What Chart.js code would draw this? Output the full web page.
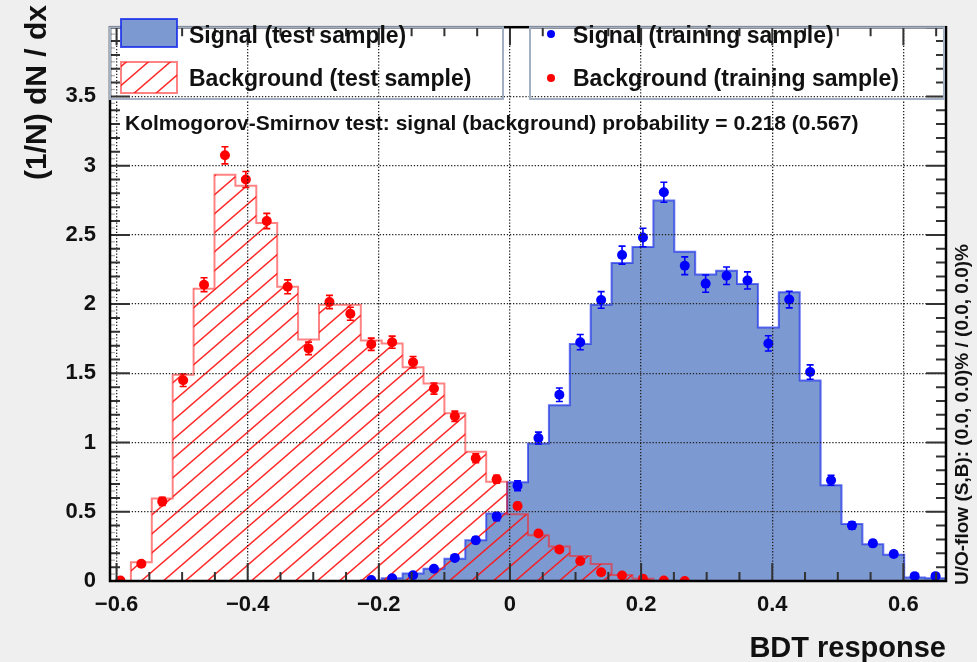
<!DOCTYPE html>
<html>
<head>
<meta charset="utf-8">
<title>BDT response</title>
<script src="https://cdn.jsdelivr.net/npm/chart.js@4.4.1/dist/chart.umd.min.js"></script>
<style>
  html, body { margin: 0; padding: 0; background: #efefef; }
  #wrap { width: 977px; height: 662px; }
</style>
</head>
<body>
<div id="wrap"><canvas id="c" width="977" height="662"></canvas></div>
<script>
// binning of the BDT output histograms
const binLow = -0.61;
const binHigh = 0.665;
const nBins = 40;

// normalised test-sample histograms (one value per bin)
const sigTest = [0, 0, 0, 0, 0, 0, 0, 0, 0, 0, 0, 0, 0.005, 0.02, 0.054, 0.089, 0.16, 0.294, 0.488, 0.714,
  0.993, 1.27, 1.712, 1.995, 2.296, 2.412, 2.749, 2.378, 2.213, 2.24, 2.145, 1.831, 2.085, 1.448, 0.692, 0.411, 0.265, 0.19, 0.026, 0.019];
const bkgTest = [0, 0.135, 0.595, 1.49, 2.11, 2.935, 2.855, 2.585, 2.125, 1.745, 1.995, 1.995, 1.737, 1.716, 1.544, 1.427, 1.211, 0.934, 0.716, 0.482,
  0.33, 0.25, 0.18, 0.122, 0.043, 0.016, 0, 0, 0, 0, 0, 0, 0, 0, 0, 0, 0, 0, 0, 0];

// training-sample points and their errors
const sigTrain = [null, null, null, null, null, null, null, null, null, null, null, null, 0.007, 0.019, 0.042, 0.089, 0.167, 0.294, 0.465, 0.688,
  1.032, 1.345, 1.725, 2.03, 2.354, 2.481, 2.808, 2.277, 2.148, 2.205, 2.171, 1.716, 2.033, 1.509, 0.728, 0.401, 0.272, 0.195, 0.035, 0.035];
const sigTrainErr = [null, null, null, null, null, null, null, null, null, null, null, null, 0.003, 0.005, 0.008, 0.013, 0.017, 0.023, 0.029, 0.035,
  0.043, 0.049, 0.055, 0.06, 0.065, 0.067, 0.072, 0.064, 0.062, 0.063, 0.062, 0.055, 0.06, 0.052, 0.036, 0.027, 0.022, 0.019, 0.008, 0.008];
const bkgTrain = [0.003, 0.125, 0.575, 1.45, 2.14, 3.075, 2.9, 2.6, 2.125, 1.68, 2.015, 1.93, 1.71, 1.725, 1.58, 1.39, 1.19, 0.887, 0.735, 0.542,
  0.343, 0.228, 0.145, 0.063, 0.04, 0.016, 0.004, 0, null, null, null, null, null, null, null, null, null, null, null, null];
const bkgTrainErr = [0.003, 0.015, 0.03, 0.045, 0.05, 0.062, 0.058, 0.055, 0.05, 0.045, 0.048, 0.047, 0.044, 0.044, 0.042, 0.04, 0.037, 0.032, 0.029, 0.025,
  0.02, 0.016, 0.013, 0.009, 0.007, 0.005, 0.002, 0, null, null, null, null, null, null, null, null, null, null, null, null];

const xTicks = [-0.6, -0.4, -0.2, 0, 0.2, 0.4, 0.6];
const yTicks = [0, 0.5, 1, 1.5, 2, 2.5, 3, 3.5];

const ksText = 'Kolmogorov-Smirnov test: signal (background) probability = 0.218 (0.567)';
const flowText = 'U/O-flow (S,B): (0.0, 0.0)% / (0.0, 0.0)%';

const FONT = '"Liberation Sans", Arial, Helvetica, sans-serif';
const SIG_FILL = '#7d99d1';
const SIG_LINE = 'rgba(20,40,235,0.65)';
const BKG_LINE = 'rgba(255,30,30,0.55)';

const binW = (binHigh - binLow) / nBins;
function histPoints(vals) {
  const pts = vals.map((v, i) => ({ x: binLow + i * binW, y: v }));
  pts.push({ x: binHigh, y: vals[vals.length - 1] });
  return pts;
}
function dotPoints(vals) {
  return vals.map((v, i) => ({ x: binLow + (i + 0.5) * binW, y: v }));
}

// "/" hatch used for the background histogram
function hatch() {
  const c = document.createElement('canvas');
  c.width = 22; c.height = 19;
  const g = c.getContext('2d');
  g.strokeStyle = 'rgba(255,20,20,0.9)';
  g.lineWidth = 1.5;
  g.beginPath();
  g.moveTo(-22, 19 * 2); g.lineTo(44, -19);
  g.moveTo(-44, 19 * 2); g.lineTo(22, -19);
  g.moveTo(0, 19 * 2); g.lineTo(66, -19);
  g.stroke();
  return g.createPattern(c, 'repeat');
}
const hatchFill = hatch();

const bgPlugin = {
  id: 'bg',
  beforeDraw(chart) {
    const { ctx, chartArea: a } = chart;
    ctx.save();
    ctx.fillStyle = '#efefef';
    ctx.fillRect(0, 0, chart.width, chart.height);
    ctx.fillStyle = '#ffffff';
    ctx.fillRect(a.left, a.top, a.right - a.left, a.bottom - a.top);
    ctx.restore();
  }
};

const errPlugin = {
  id: 'errbars',
  afterDatasetsDraw(chart) {
    const { ctx, scales: { x, y } } = chart;
    chart.data.datasets.forEach((ds) => {
      if (!ds.errors) return;
      ctx.save();
      ctx.strokeStyle = ds.pointBackgroundColor;
      ctx.lineWidth = 1.6;
      ds.data.forEach((p, i) => {
        const e = ds.errors[i];
        if (p.y == null || !e) return;
        const px = x.getPixelForValue(p.x);
        const y1 = y.getPixelForValue(p.y + e);
        const y0 = y.getPixelForValue(p.y - e);
        ctx.beginPath();
        ctx.moveTo(px, y0); ctx.lineTo(px, y1);
        ctx.moveTo(px - 3.5, y1); ctx.lineTo(px + 3.5, y1);
        ctx.moveTo(px - 3.5, y0); ctx.lineTo(px + 3.5, y0);
        ctx.stroke();
      });
      ctx.restore();
    });
  }
};

const framePlugin = {
  id: 'frame',
  afterDraw(chart) {
    const { ctx, chartArea: a, scales: { x, y } } = chart;
    ctx.save();

    // inward ticks on all four sides
    ctx.strokeStyle = '#333';
    ctx.lineWidth = 2;
    for (let k = -12; k <= 13; k++) {
      const px = x.getPixelForValue(k * 0.05);
      if (px < a.left || px > a.right) continue;
      const len = k % 4 === 0 ? 18 : 9;
      ctx.beginPath();
      ctx.moveTo(px, a.bottom); ctx.lineTo(px, a.bottom - len);
      ctx.moveTo(px, a.top); ctx.lineTo(px, a.top + len);
      ctx.stroke();
    }
    for (let k = 0; k <= 80; k++) {
      const py = y.getPixelForValue(k * 0.05);
      if (py < a.top) continue;
      let len = 5;
      if (k % 10 === 0) len = 20;
      else if (k % 2 === 0) len = 10;
      ctx.strokeStyle = len === 5 ? '#aaa' : '#333';
      ctx.lineWidth = len === 5 ? 1.2 : 2;
      ctx.beginPath();
      ctx.moveTo(a.left, py); ctx.lineTo(a.left + len, py);
      if (len > 5) { ctx.moveTo(a.right, py); ctx.lineTo(a.right - len, py); }
      ctx.stroke();
    }

    // frame
    ctx.strokeStyle = '#000';
    ctx.lineWidth = 2.5;
    ctx.strokeRect(a.left, a.top, a.right - a.left, a.bottom - a.top);

    // legend panels
    ctx.strokeStyle = '#a3afc2';
    ctx.lineWidth = 2;
    ctx.strokeRect(a.left, a.top, 503 - a.left, 99 - a.top);
    ctx.strokeRect(530, a.top, 944 - 530, 99 - a.top);

    ctx.fillStyle = SIG_FILL;
    ctx.fillRect(121, 19, 56, 28);
    ctx.strokeStyle = 'rgba(20,40,235,0.8)';
    ctx.lineWidth = 2;
    ctx.strokeRect(121, 19, 56, 28);
    ctx.fillStyle = hatchFill;
    ctx.fillRect(121, 62, 56, 31);
    ctx.strokeStyle = BKG_LINE;
    ctx.strokeRect(121, 62, 56, 31);

    ctx.fillStyle = '#0000ff';
    ctx.beginPath(); ctx.arc(551, 34, 4, 0, Math.PI * 2); ctx.fill();
    ctx.fillStyle = '#ff0000';
    ctx.beginPath(); ctx.arc(551, 78, 4, 0, Math.PI * 2); ctx.fill();

    ctx.fillStyle = '#111';
    ctx.textBaseline = 'alphabetic';
    ctx.textAlign = 'left';
    ctx.font = `bold 23px ${FONT}`;
    ctx.fillText('Signal (test sample)', 189, 43);
    ctx.fillText('Background (test sample)', 189, 86);
    ctx.fillText('Signal (training sample)', 573, 43);
    ctx.fillText('Background (training sample)', 573, 86);

    ctx.font = `bold 21px ${FONT}`;
    ctx.fillText(ksText, 125, 130);

    // axis titles
    ctx.font = `bold 29px ${FONT}`;
    ctx.textAlign = 'right';
    ctx.fillText('BDT response', a.right, 657);

    ctx.save();
    ctx.translate(38, 5);
    ctx.rotate(-Math.PI / 2);
    ctx.font = `bold 30px ${FONT}`;
    ctx.textAlign = 'right';
    ctx.textBaseline = 'middle';
    ctx.fillText('(1/N) dN / dx', 0, 0);
    ctx.restore();

    ctx.save();
    ctx.translate(963, 585);
    ctx.rotate(-Math.PI / 2);
    ctx.font = `bold 19px ${FONT}`;
    ctx.textAlign = 'left';
    ctx.textBaseline = 'middle';
    ctx.fillText(flowText, 0, 0);
    ctx.restore();

    ctx.restore();
  }
};

new Chart(document.getElementById('c'), {
  type: 'line',
  data: {
    datasets: [
      {
        data: histPoints(sigTest), stepped: 'before', fill: 'origin',
        backgroundColor: SIG_FILL, borderColor: SIG_LINE, borderWidth: 2,
        pointRadius: 0, order: 4
      },
      {
        data: histPoints(bkgTest), stepped: 'before', fill: 'origin',
        backgroundColor: hatchFill, borderColor: BKG_LINE, borderWidth: 2,
        pointRadius: 0, order: 3
      },
      {
        data: dotPoints(sigTrain), errors: sigTrainErr, showLine: false,
        pointRadius: 5, pointBackgroundColor: '#0000ff', pointBorderWidth: 0, order: 2
      },
      {
        data: dotPoints(bkgTrain), errors: bkgTrainErr, showLine: false,
        pointRadius: 5, pointBackgroundColor: '#ff0000', pointBorderWidth: 0, order: 1
      }
    ]
  },
  options: {
    responsive: false,
    devicePixelRatio: 1,
    animation: false,
    layout: { padding: { left: 0, top: 12, right: 31, bottom: 0 } },
    plugins: { legend: { display: false }, tooltip: { enabled: false } },
    scales: {
      x: {
        type: 'linear', min: binLow, max: binHigh,
        afterBuildTicks: (s) => { s.ticks = xTicks.map((v) => ({ value: v })); },
        afterFit: (s) => { s.height = 81; },
        ticks: {
          autoSkip: false, maxRotation: 0, padding: 11, color: '#111',
          font: { family: FONT, size: 22, weight: 'bold' },
          callback: (v) => (v < 0 ? '\u2212' + Math.abs(v).toFixed(1) : v === 0 ? '0' : v.toFixed(1))
        },
        grid: { color: '#222', lineWidth: 1.3, drawTicks: false, z: 1 },
        border: { display: false, dash: [1.3, 1.8] }
      },
      y: {
        type: 'linear', min: 0, max: 4,
        afterBuildTicks: (s) => { s.ticks = yTicks.map((v) => ({ value: v })); },
        afterFit: (s) => { s.width = 110; },
        ticks: {
          padding: 14, color: '#111',
          font: { family: FONT, size: 22, weight: 'bold' },
          callback: (v) => String(v)
        },
        grid: { color: '#222', lineWidth: 1.3, drawTicks: false, z: 1 },
        border: { display: false, dash: [1.3, 1.8] }
      }
    }
  },
  plugins: [bgPlugin, errPlugin, framePlugin]
});
</script>
</body>
</html>
